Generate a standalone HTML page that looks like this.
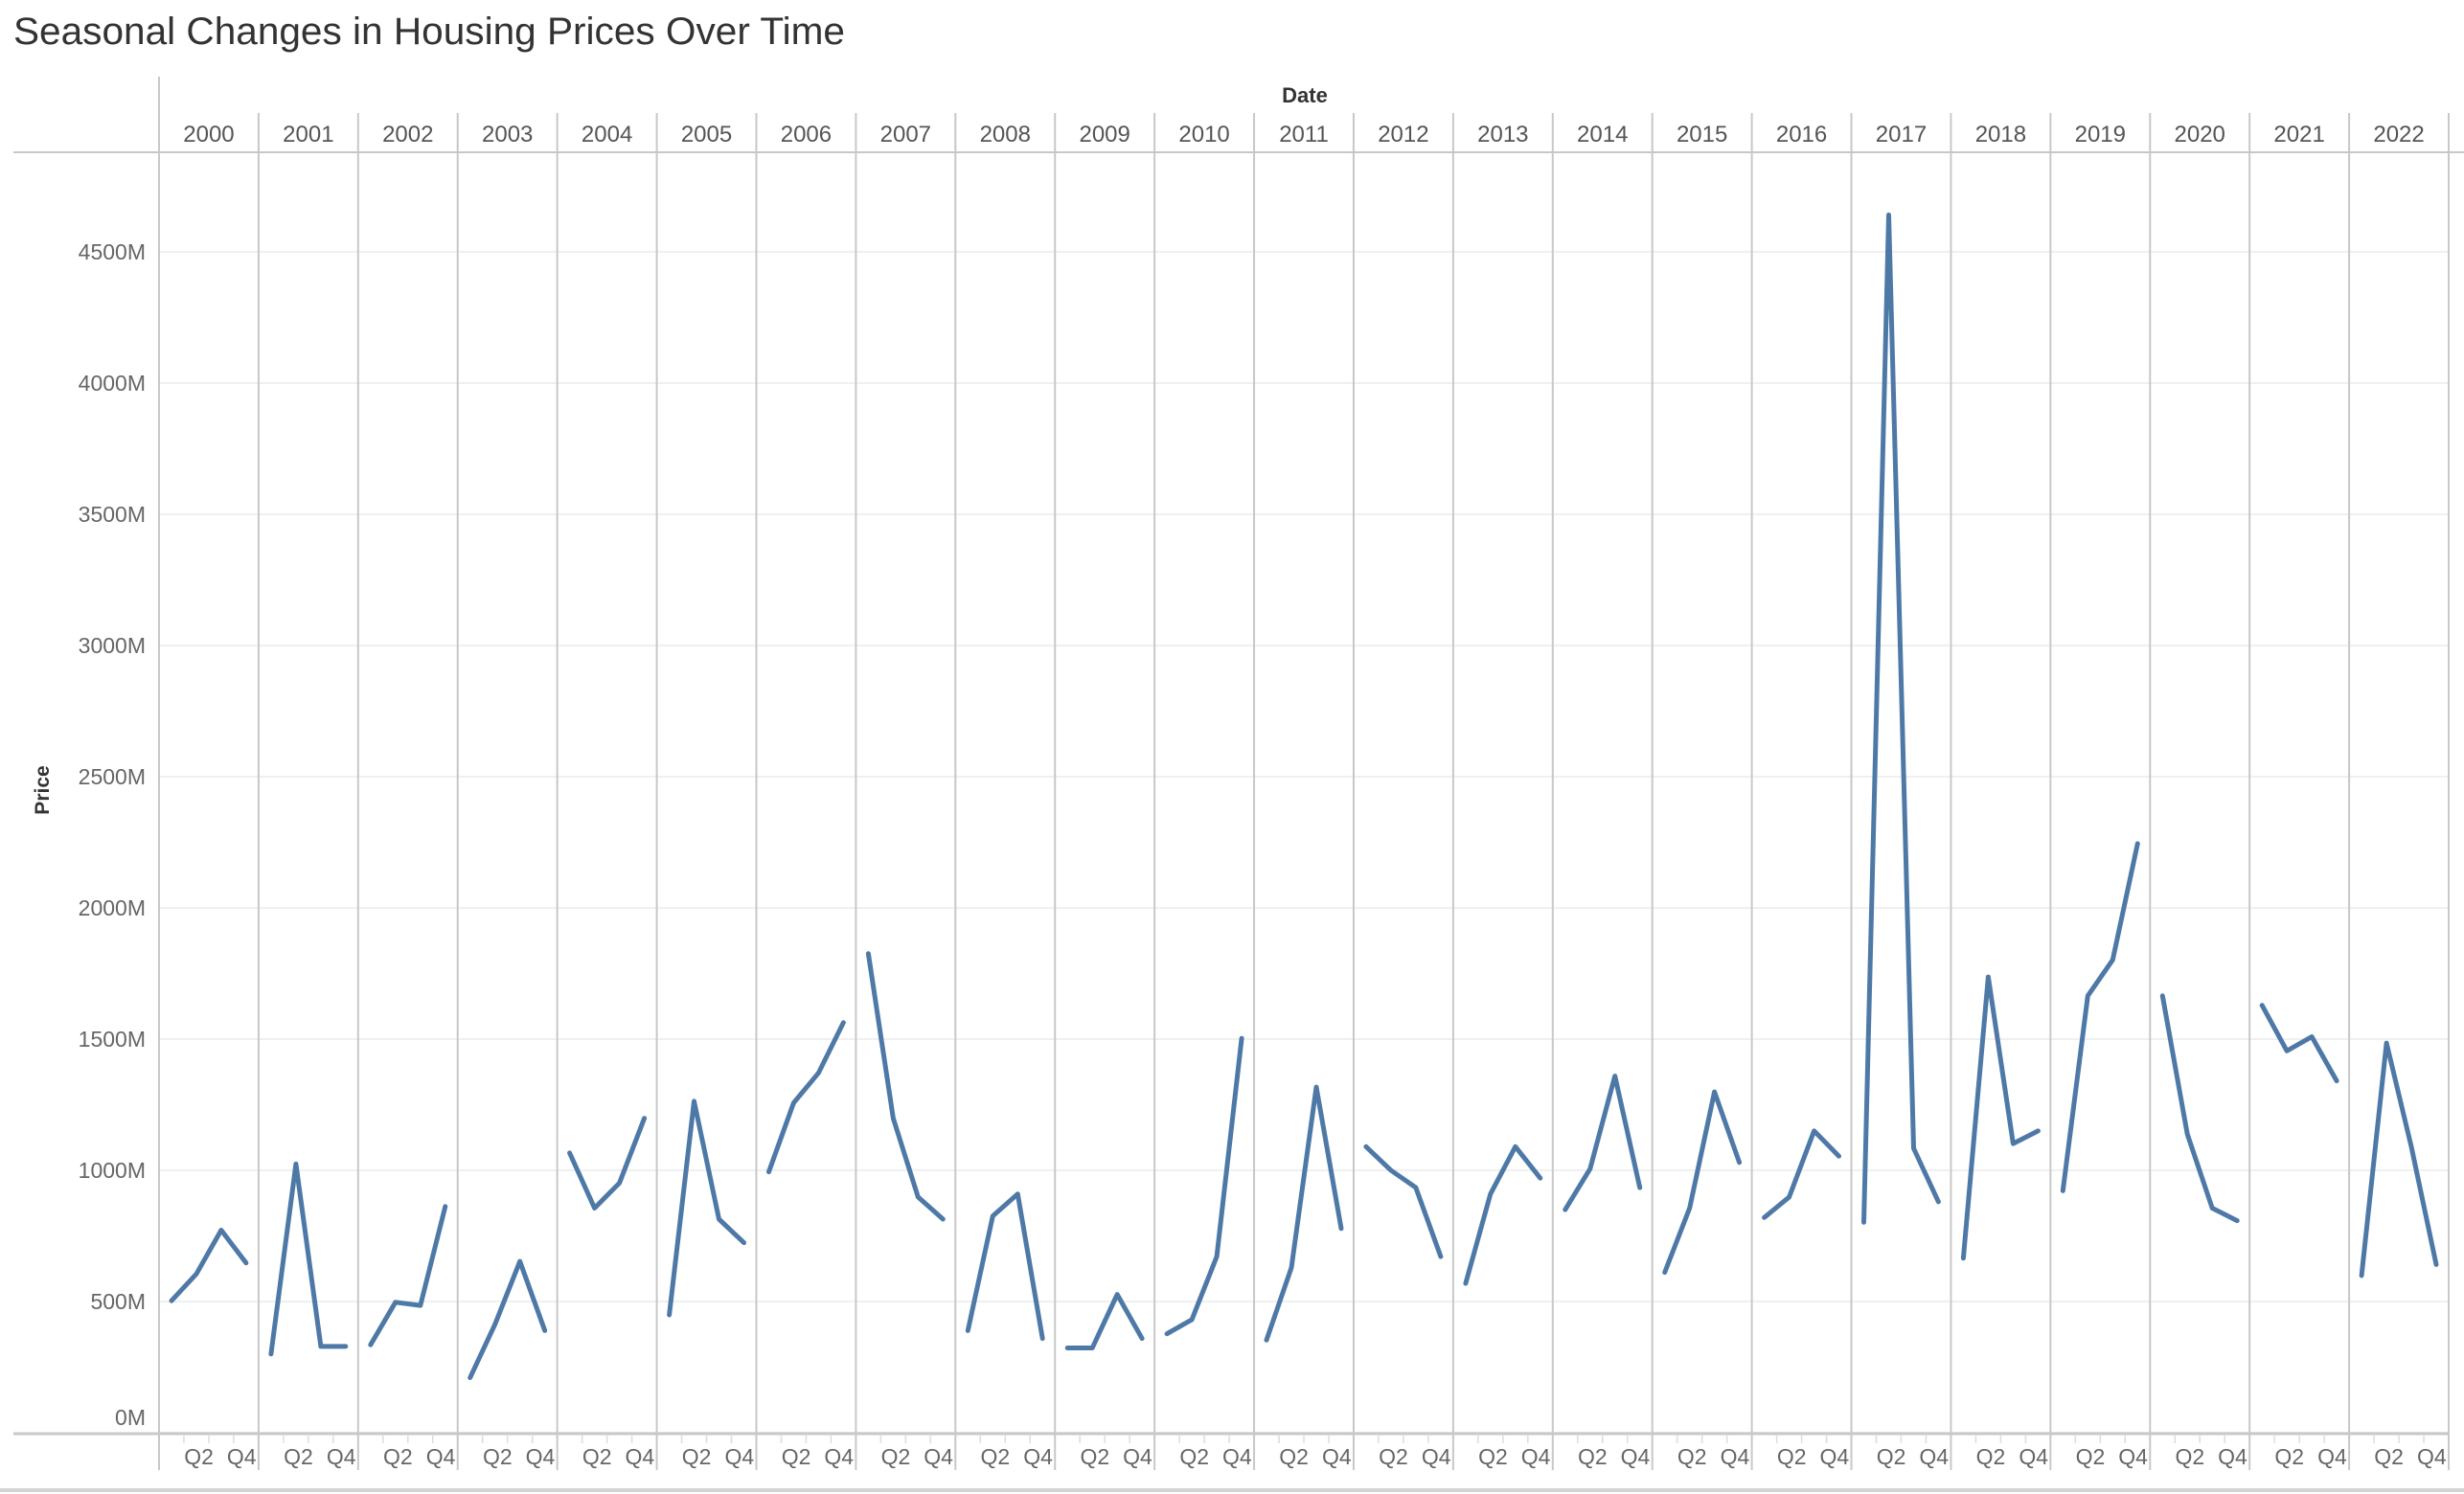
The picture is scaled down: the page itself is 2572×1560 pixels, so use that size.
<!DOCTYPE html>
<html><head><meta charset="utf-8"><style>
html,body{margin:0;padding:0;background:#fff;}
svg{display:block;font-family:"Liberation Sans",sans-serif;}
</style></head><body>
<svg id="chart" width="2572" height="1560" viewBox="0 0 2572 1560" xmlns="http://www.w3.org/2000/svg">
<text x="14" y="46" font-size="40" fill="#333" textLength="868" lengthAdjust="spacingAndGlyphs">Seasonal Changes in Housing Prices Over Time</text>
<text x="1362" y="107" font-size="22" font-weight="bold" fill="#333" text-anchor="middle">Date</text>
<text transform="translate(51,825) rotate(-90)" font-size="21" font-weight="bold" fill="#333" text-anchor="middle">Price</text>
<g id="grid"></g><g id="panels"></g><g id="yticks"></g><g id="lines"></g><g id="xlabels"></g>
</svg>
<script>
const years = [2000,2001,2002,2003,2004,2005,2006,2007,2008,2009,2010,2011,2012,2013,2014,2015,2016,2017,2018,2019,2020,2021,2022];
const prices = [
[503,605,772,647],[300,1024,329,329],[335,497,485,862],[210,413,653,389],
[1066,856,952,1198],[449,1263,814,724],[994,1257,1371,1563],[1826,1198,898,814],
[389,826,910,359],[323,323,527,359],[377,431,671,1503],[353,629,1317,778],
[1090,1000,934,671],[569,910,1090,970],[850,1006,1359,934],[611,856,1299,1030],
[820,898,1150,1054],[802,4641,1084,880],[665,1737,1102,1150],[922,1665,1802,2245],
[1665,1138,856,808],[1629,1455,1509,1341],[599,1485,1090,641]];
const yTicks = [0,500,1000,1500,2000,2500,3000,3500,4000,4500];
const NS='http://www.w3.org/2000/svg';
const L=166, R=2556, PW=(R-L)/years.length, Y0=1496, PER=137/500;
const y = v => Y0 - v*PER;
const x = (p,q) => L + p*PW + (q+0.5)/4*PW;
function mk(tag, attrs, parent, txt){const e=document.createElementNS(NS,tag);for(const k in attrs)e.setAttribute(k,attrs[k]);if(txt!==undefined)e.textContent=txt;document.getElementById(parent).appendChild(e);return e;}
yTicks.forEach(t=>{
  const g=mk('line',{x1:L,x2:R,y1:y(t),y2:y(t),stroke:'#f0f0f0','stroke-width':2},'grid');
  
  
  const ty = t===0 ? y(t)-8 : y(t)+8;
  const tx=mk('text',{x:152,y:ty,'font-size':23,fill:'#666','text-anchor':'end'},'yticks',t+'M');
  
  
});
let e;
e=mk('line',{x1:14,x2:2572,y1:159,y2:159,stroke:'#c8c8c8','stroke-width':2},'panels');


e=mk('line',{x1:L,x2:L,y1:80,y2:1535,stroke:'#c8c8c8','stroke-width':2},'panels');


e=mk('line',{x1:14,x2:R,y1:1497,y2:1497,stroke:'#c8c8c8','stroke-width':3},'panels');


e=mk('line',{x1:0,x2:2572,y1:1556,y2:1556,stroke:'#d4d4d4','stroke-width':4},'panels');


years.forEach((yr,p)=>{
  const xr=L+(p+1)*PW;
  const s=mk('line',{x1:xr,x2:xr,y1:118,y2:1535,stroke:'#c8c8c8','stroke-width':2},'panels');
  
  
  const lb=mk('text',{x:L+(p+0.5)*PW,y:148,'font-size':24,fill:'#555','text-anchor':'middle'},'xlabels',String(yr));
  
  
  [1,2,3].forEach(q=>{const tk=mk('line',{x1:x(p,q-0.5),x2:x(p,q-0.5),y1:1499,y2:1507,stroke:'#ddd','stroke-width':1.5},'panels');
    
    });
  const q2=mk('text',{x:L+p*PW+0.40*PW,y:1529,'font-size':23,fill:'#666','text-anchor':'middle'},'xlabels','Q2');
  
  
  const q4=mk('text',{x:L+p*PW+0.83*PW,y:1529,'font-size':23,fill:'#666','text-anchor':'middle'},'xlabels','Q4');
  
  
  const pts=prices[p].map((v,q)=>x(p,q).toFixed(1)+','+y(v).toFixed(1)).join(' ');
  const pl=mk('polyline',{points:pts,fill:'none',stroke:'#4e79a7','stroke-width':5,'stroke-linejoin':'round','stroke-linecap':'round'},'lines');
  
  
});
</script>
</body></html>
